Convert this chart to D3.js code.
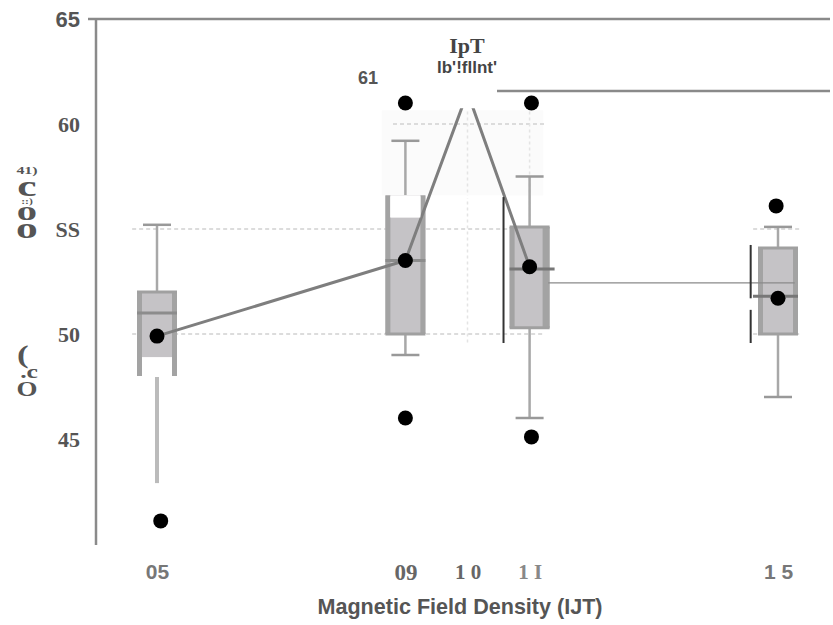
<!DOCTYPE html>
<html>
<head>
<meta charset="utf-8">
<script src="https://d3js.org/d3.v7.min.js"></script>
<style>
  body { margin: 0; background: #fff; }
  .serif { font-family: "Liberation Serif", "DejaVu Serif", serif; font-weight: bold; }
  .sans { font-family: "Liberation Sans", Arial, sans-serif; font-weight: bold; }
</style>
</head>
<body>
<svg id="chart" width="833" height="625"></svg>
<script>
// data
const xTicks = [5, 9, 10, 11, 15];
const xTickLabels = ["05", "09", "1 0", "1 I", "1 5"];
const yTicks = [45, 50, 55, 60, 65];
const yTickLabels = ["45", "50", "SS", "60", "65"];

const boxX      = [5, 9, 11, 15];
const boxQ1     = [48.0, 50.0, 50.3, 50.0];
const boxMedian = [51.0, 53.5, 53.1, 51.8];
const boxQ3     = [52.0, 56.6, 55.1, 54.1];
const whiskLo   = [42.9, 49.0, 46.0, 47.0];
const whiskHi   = [55.2, 59.2, 57.5, 55.1];
const boxGapLo  = [48.0, 55.6, null, null];   // white patch inside the box
const boxGapHi  = [48.9, 56.6, null, null];

const meanX = [5, 9, 10, 11];
const meanY = [49.9, 53.5, 61.5, 53.2];
const meanDotX = [5, 9, 11, 15];
const meanDotY = [49.9, 53.5, 53.2, 51.7];

const outlierX = [5.06, 9, 9, 11.03, 11.03, 14.97];
const outlierY = [41.1, 46.0, 61.0, 61.0, 45.1, 56.1];

const refLineY = 52.43;
const barX  = [10.58, 14.56];
const barLo = [49.57, 49.57];
const barHi = [56.52, 54.24];

const svg = d3.select('#chart');
const x = d3.scaleLinear().domain([5, 15]).range([157, 778]);
const y = d3.scaleLinear().domain([40, 65]).range([544, 19]);

// faint panel behind the peak
svg.append('rect')
  .attr('x', x(8.62)).attr('y', y(60.65))
  .attr('width', x(11.22) - x(8.62)).attr('height', y(56.6) - y(60.65))
  .attr('fill', '#fbfbfb');

// dashed grid pieces
const grid = [
  { v: 55, x0: 4.6, x1: 11.25 },
  { v: 50, x0: 4.6, x1: 11.25 },
  { v: 60, x0: 8.8, x1: 11.25 },
  { v: 55, x0: 14.6, x1: 15.35 },
  { v: 50, x0: 14.6, x1: 15.35 }
];
svg.selectAll('line.grid').data(grid).join('line')
  .attr('class', 'grid')
  .attr('x1', d => x(d.x0)).attr('x2', d => x(d.x1))
  .attr('y1', d => y(d.v)).attr('y2', d => y(d.v))
  .attr('stroke', '#dcdcdc').attr('stroke-width', 2).attr('stroke-dasharray', '4,3');
svg.selectAll('line.vgrid').data([10, 11]).join('line')
  .attr('class', 'vgrid')
  .attr('x1', d => x(d)).attr('x2', d => x(d))
  .attr('y1', y(60.6)).attr('y2', y(49.5))
  .attr('stroke', '#e4e4e4').attr('stroke-width', 1.5).attr('stroke-dasharray', '3,3');

// boxes and whiskers
const bw = 40, cap = 28;
boxX.forEach((bx, i) => {
  const cx = x(bx);
  const g = svg.append('g');
  const top = y(boxQ3[i]), bot = y(boxQ1[i]);
  g.append('line').attr('x1', cx).attr('x2', cx)
    .attr('y1', y(whiskHi[i])).attr('y2', top)
    .attr('stroke', '#a8a8a8').attr('stroke-width', 2.5);
  g.append('line').attr('x1', cx - cap / 2).attr('x2', cx + cap / 2)
    .attr('y1', y(whiskHi[i])).attr('y2', y(whiskHi[i]))
    .attr('stroke', '#999').attr('stroke-width', 2.5);
  g.append('line').attr('x1', cx).attr('x2', cx)
    .attr('y1', bot + (i === 0 ? -8 : 0)).attr('y2', y(whiskLo[i]))
    .attr('stroke', i === 0 ? '#bbbbbb' : '#a8a8a8').attr('stroke-width', i === 0 ? 4 : 2.5);
  if (i !== 0) {
    g.append('line').attr('x1', cx - cap / 2).attr('x2', cx + cap / 2)
      .attr('y1', y(whiskLo[i])).attr('y2', y(whiskLo[i]))
      .attr('stroke', '#999').attr('stroke-width', 2.5);
  }
  g.append('rect')
    .attr('x', cx - bw / 2).attr('y', top)
    .attr('width', bw).attr('height', bot - top)
    .attr('fill', '#c5c3c6');
  // side borders
  g.append('rect').attr('x', cx - bw / 2).attr('y', top)
    .attr('width', 5).attr('height', bot - top).attr('fill', '#a3a3a3');
  g.append('rect').attr('x', cx + bw / 2 - (i === 2 ? 7 : 5)).attr('y', top)
    .attr('width', i === 2 ? 7 : 5).attr('height', bot - top).attr('fill', '#a3a3a3');
  // top / bottom borders, skipped where the box has a white gap
  if (!(boxGapHi[i] !== null && Math.abs(boxGapHi[i] - boxQ3[i]) < 0.01)) {
    g.append('line').attr('x1', cx - bw / 2).attr('x2', cx + bw / 2).attr('y1', top).attr('y2', top)
      .attr('stroke', '#a0a0a0').attr('stroke-width', 3);
  }
  if (!(boxGapLo[i] !== null && Math.abs(boxGapLo[i] - boxQ1[i]) < 0.01)) {
    g.append('line').attr('x1', cx - bw / 2).attr('x2', cx + bw / 2).attr('y1', bot).attr('y2', bot)
      .attr('stroke', '#a0a0a0').attr('stroke-width', 3);
  }
  if (boxGapLo[i] !== null) {
    g.append('rect').attr('x', cx - bw / 2 + 5).attr('y', y(boxGapHi[i]))
      .attr('width', bw - 10).attr('height', y(boxGapLo[i]) - y(boxGapHi[i]) + 1)
      .attr('fill', '#fff');
  }
});

// medians
svg.selectAll('line.median').data(boxX).join('line')
  .attr('class', 'median')
  .attr('x1', (d, i) => x(d) - bw / 2 + (i === 3 ? -5 : 0))
  .attr('x2', (d, i) => x(d) + bw / 2 + (i === 2 ? 5 : 0))
  .attr('y1', (d, i) => y(boxMedian[i])).attr('y2', (d, i) => y(boxMedian[i]))
  .attr('stroke', (d, i) => i >= 2 ? '#777' : '#8c8c8c').attr('stroke-width', 3);

// thin reference line between 11 and 15
svg.append('line')
  .attr('x1', x(11.3)).attr('x2', x(15.27))
  .attr('y1', y(refLineY)).attr('y2', y(refLineY))
  .attr('stroke', '#8a8a8a').attr('stroke-width', 1.3);

// white strip right of the 09 box
svg.append('rect').attr('x', x(9) + bw / 2 + 1).attr('y', y(56.6)).attr('width', x(11) - x(9) - bw - 6)
  .attr('height', 3).attr('fill', '#fff');

// mean line
svg.append('path')
  .datum(meanX.map((v, i) => [v, meanY[i]]))
  .attr('d', d3.line().x(d => x(d[0])).y(d => y(d[1])))
  .attr('fill', 'none').attr('stroke', '#7e7e7e').attr('stroke-width', 3);
// white label area that cuts the peak, and the gap at the top of the 09 box
svg.append('rect').attr('x', 383).attr('y', 22).attr('width', 114).attr('height', y(60.75) - 22).attr('fill', '#fff');
svg.append('rect').attr('x', x(9) - bw / 2 + 5).attr('y', y(56.6) + 1).attr('width', bw - 10)
  .attr('height', y(55.6) - y(56.6)).attr('fill', '#fff');

// dark vertical bars (second one broken around the mean)
svg.append('line').attr('x1', x(barX[0])).attr('x2', x(barX[0]))
  .attr('y1', y(barHi[0])).attr('y2', y(barLo[0]))
  .attr('stroke', '#333').attr('stroke-width', 2);
svg.append('line').attr('x1', x(barX[1])).attr('x2', x(barX[1]))
  .attr('y1', y(barHi[1])).attr('y2', y(51.7))
  .attr('stroke', '#333').attr('stroke-width', 2);
svg.append('line').attr('x1', x(barX[1])).attr('x2', x(barX[1]))
  .attr('y1', y(51.15)).attr('y2', y(barLo[1]))
  .attr('stroke', '#333').attr('stroke-width', 2);

// mean dots
svg.selectAll('circle.mean').data(meanDotX).join('circle')
  .attr('class', 'mean')
  .attr('cx', d => x(d)).attr('cy', (d, i) => y(meanDotY[i]))
  .attr('r', 7.5).attr('fill', '#000');

// outliers
svg.selectAll('circle.out').data(outlierX).join('circle')
  .attr('class', 'out')
  .attr('cx', d => x(d)).attr('cy', (d, i) => y(outlierY[i]))
  .attr('r', 7.5).attr('fill', '#000');

// frame lines
svg.append('line').attr('x1', 88).attr('x2', 830).attr('y1', y(65)).attr('y2', y(65))
  .attr('stroke', '#8a8a8a').attr('stroke-width', 2.5);
svg.append('line').attr('x1', 96).attr('x2', 96).attr('y1', y(65)).attr('y2', 545)
  .attr('stroke', '#8a8a8a').attr('stroke-width', 2.5);
svg.append('line').attr('x1', 497).attr('x2', 830).attr('y1', 91).attr('y2', 91)
  .attr('stroke', '#8a8a8a').attr('stroke-width', 2.5);

// y axis labels
const yAxis = d3.axisLeft(y).tickValues(yTicks).tickSize(0).tickPadding(0)
  .tickFormat((d, i) => yTickLabels[i]);
const gy = svg.append('g').attr('transform', 'translate(80,0)').call(yAxis);
gy.select('.domain').remove();
gy.selectAll('text')
  .attr('class', d => d === 65 ? 'sans' : 'serif')
  .attr('font-size', 22).attr('fill', '#555').attr('dy', '0.35em');

// x axis labels
const xAxis = d3.axisBottom(x).tickValues(xTicks).tickSize(0).tickPadding(0)
  .tickFormat((d, i) => xTickLabels[i]);
const gx = svg.append('g').attr('transform', 'translate(0,564)').call(xAxis);
gx.select('.domain').remove();
gx.selectAll('text')
  .attr('class', d => (d === 5 || d === 15) ? 'sans' : 'serif')
  .attr('font-size', d => d === 9 ? 23 : 21)
  .attr('font-weight', d => d === 11 ? 'normal' : 'bold')
  .attr('fill', d => d === 11 ? '#888' : ((d === 9 || d === 10) ? '#666' : '#777'))
  .attr('dy', '0.71em');

svg.append('text').attr('class', 'sans')
  .attr('x', 460).attr('y', 614).attr('text-anchor', 'middle')
  .attr('font-size', 22).attr('fill', '#555')
  .attr('textLength', 285).attr('lengthAdjust', 'spacingAndGlyphs')
  .text('Magnetic Field Density (IJT)');

// title-ish text
svg.append('text').attr('class', 'serif').attr('x', 467).attr('y', 53)
  .attr('text-anchor', 'middle').attr('font-size', 22).attr('fill', '#444').text('IpT');
svg.append('text').attr('class', 'sans').attr('x', 467).attr('y', 73)
  .attr('text-anchor', 'middle').attr('font-size', 17).attr('fill', '#444').text("lb'!fllnt'");
svg.append('text').attr('class', 'sans').attr('x', 368).attr('y', 84)
  .attr('text-anchor', 'middle').attr('font-size', 18).attr('fill', '#555').text('61');

// garbled y axis title, two stacks of glyphs, each one text element
const yTitleTop = [
  { t: '41)', y: 174, s: 11 },
  { t: 'c', y: 196, s: 30 },
  { t: '::)', y: 204, s: 8 },
  { t: 'o', y: 220, s: 28 },
  { t: 'o', y: 238, s: 30 }
];
const yTitleLow = [
  { t: '(', y: 363, s: 26, dx: -3 },
  { t: '.c', y: 378, s: 19, dx: 1.5 },
  { t: 'O', y: 396, s: 20, dx: 0 }
];
const stackTop = svg.append('text').attr('class', 'serif')
  .attr('transform', 'translate(27,0) scale(1.45,1)')
  .attr('text-anchor', 'middle').attr('fill', '#555');
stackTop.selectAll('tspan').data(yTitleTop).join('tspan')
  .attr('x', 0).attr('y', d => d.y).attr('font-size', d => d.s).text(d => d.t);
const stackLow = svg.append('text').attr('class', 'serif')
  .attr('transform', 'translate(27,0) scale(1.35,1)')
  .attr('text-anchor', 'middle').attr('fill', '#555');
stackLow.selectAll('tspan').data(yTitleLow).join('tspan')
  .attr('x', d => d.dx).attr('y', d => d.y).attr('font-size', d => d.s).text(d => d.t);
</script>
</body>
</html>
